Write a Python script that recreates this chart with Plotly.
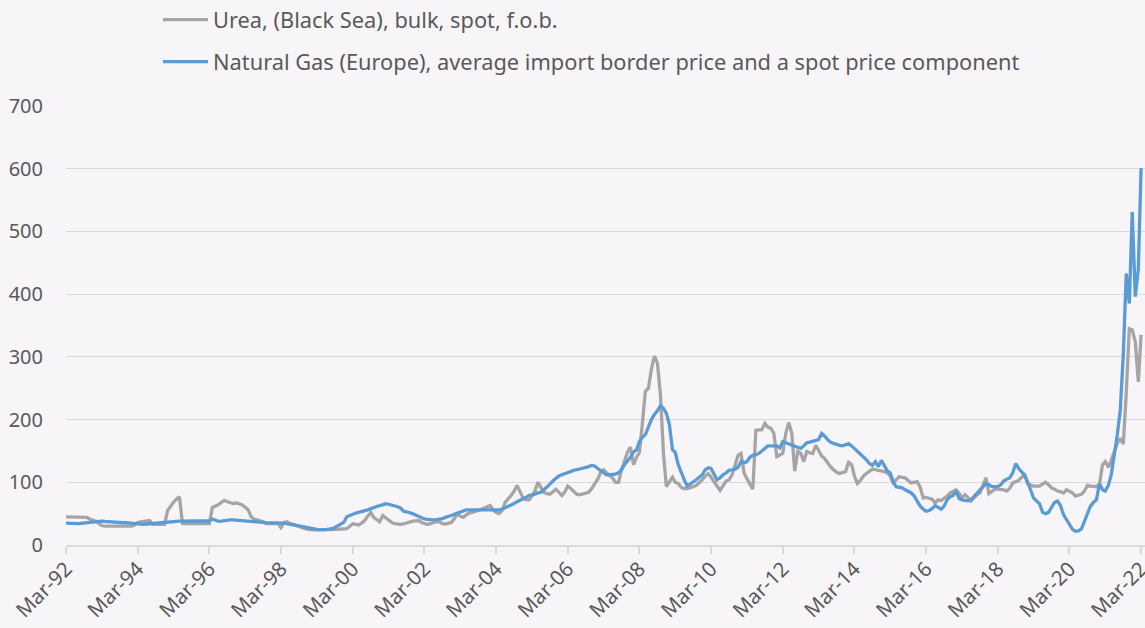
import pandas as pd
import plotly.graph_objects as go

# Monthly observations, Mar-92 .. Mar-22 (one row = Mar..Feb)
urea = [
    45, 45, 45, 45, 45, 45, 45, 44, 41, 39, 38, 34,
    31, 30, 30, 30, 30, 30, 30, 30, 30, 30, 30, 32,
    36, 37, 38, 39, 39, 33, 33, 33, 33, 33, 55, 63,
    68, 73, 77, 34, 34, 34, 34, 34, 34, 34, 34, 34,
    34, 60, 62, 64, 68, 71, 69, 67, 66, 67, 66, 64,
    60, 56, 45, 41, 40, 39, 37, 34, 34, 34, 34, 34,
    28, 36, 37, 34, 33, 31, 29, 27, 26, 25, 24, 24,
    24, 24, 24, 24, 24, 24, 24, 25, 25.5, 25.5, 26, 30,
    34, 33, 32, 35, 39, 46, 52, 44, 41, 37, 47, 43,
    39, 36, 34, 33, 33, 33.5, 35, 37, 38, 38.5, 39, 36,
    34, 32.5, 34, 36, 37, 37, 34, 33.5, 35, 36, 42, 49.5,
    46, 44, 48, 51, 52, 53, 55, 57, 59, 61, 63, 56,
    52, 50, 55, 68, 73, 79, 86, 95, 85, 75, 72, 72,
    78, 86, 100, 92, 84, 82, 81, 85, 89, 84, 79, 85,
    94, 90, 85, 81, 80, 81, 83, 84, 90, 97, 105, 116,
    120, 115, 111, 107, 100, 100, 120, 135, 148, 156, 128, 140,
    147, 195, 245, 250, 280, 301, 290, 240, 147, 93, 100, 108,
    100, 98, 92, 90, 90, 91, 93, 95, 99, 104, 110, 114,
    108, 100, 94, 87, 95, 102, 104, 112, 127, 143, 146, 115,
    106, 97, 89, 183, 184, 184, 194, 188, 186, 178, 141, 143,
    146, 178, 195, 178, 118, 149, 146, 133, 149, 147, 146, 159,
    150, 142, 138, 131, 125, 120, 116, 114, 115, 117, 132, 128,
    110, 98, 103, 110, 114, 118, 121, 120, 119, 119, 117, 115,
    110, 99, 104, 109, 108, 107, 103, 99, 100, 101, 92, 75,
    76, 75, 73, 67, 72, 71, 74, 78, 83, 86, 88, 82,
    75, 80, 76, 70, 75, 80, 83, 95, 107, 82, 86, 89,
    89, 89, 88, 86, 90, 99, 101, 103, 108, 112, 97, 95,
    94, 94, 94, 97, 100, 96, 91, 89, 86, 85, 83, 88,
    86, 83, 78, 79, 81, 86, 95, 94, 93, 93, 97, 128,
    133, 124, 135, 150, 162, 170, 161, 242, 345, 343, 324, 260,
    335,
]

gas = [
    35, 34.5, 34, 33.5, 34, 34.5, 35, 35.5, 36, 36.5, 37, 38,
    38, 37.5, 37, 37, 36.5, 36, 36, 35.5, 35.5, 35, 34.5, 34,
    33.5, 33, 33, 33.5, 34, 34.5, 35, 35.5, 36, 36.5, 37, 37,
    37.5, 37.5, 38, 38, 38.3, 38.3, 38.3, 38.3, 38.3, 38.3, 38.3, 38.5,
    38.5, 41.5, 39, 37.7, 38, 39, 39.5, 40, 40, 39.5, 39, 38.5,
    38, 37.7, 37.5, 37, 36.5, 36, 36, 35.7, 35.7, 35.7, 35.7, 35.7,
    35.7, 35, 34, 33, 32, 31, 30, 29, 28, 27, 26, 25,
    25, 24.5, 24, 24.5, 25.5, 26, 28, 31, 34, 36, 45, 47,
    49.5, 51, 52, 53, 55, 56, 58, 60, 61, 63, 64, 66,
    65, 64, 63, 61, 59, 54, 53, 52, 50, 48, 46, 44,
    41.5, 41, 40, 40, 40.5, 41, 42, 44, 45, 47, 49, 51,
    53, 55, 56, 56, 56, 55.5, 55, 55, 55, 55, 55, 55,
    55.5, 56, 57, 59, 62, 64, 66, 69, 71, 73, 76, 79,
    79.5, 81, 83, 84, 88, 92, 97, 102, 106, 110, 112, 114,
    116, 117, 119, 120, 121, 122, 124, 125, 127, 126, 122, 119,
    116, 112, 112, 112, 113, 115, 120, 128, 134, 140, 148, 152,
    165, 172, 176, 190, 200, 208, 214, 222, 218, 210, 192, 152,
    148, 128, 115, 104, 94, 97, 100, 104, 108, 112, 120, 123,
    122, 113, 104, 107, 112, 115, 119, 120, 121, 124, 133, 131,
    133, 140, 143, 144, 146, 150, 154, 158, 158, 158, 158, 155,
    165, 163, 161, 159, 157, 155, 154, 158, 163, 164, 165, 166,
    168, 178, 174, 168, 164, 162, 160, 159, 158, 160, 161.5, 158,
    154, 150, 145, 140, 136, 130, 127, 133, 125, 135, 126, 118,
    115, 100, 93, 92, 91, 88, 86, 83, 78, 70, 62, 57,
    54, 55, 58, 63, 60, 57, 62, 72, 77, 79, 86, 74,
    72, 71.5, 70.5, 72, 77, 81, 86, 92, 98, 96, 93, 93,
    93, 96, 102, 105, 107, 115, 130, 122, 116, 111, 100, 85,
    75, 70, 66, 52, 50, 52, 59, 68, 70, 63, 48, 40,
    35, 25, 22, 22.5, 25.5, 38, 50, 62, 68, 72, 98, 88,
    86, 95, 112, 142, 175, 215, 305, 433, 385, 531, 396, 440,
    601,
]

months = pd.date_range("1992-03-01", periods=len(urea), freq="MS")

series_names = [
    "Urea, (Black Sea), bulk, spot, f.o.b.",
    "Natural Gas (Europe), average import border price and a spot price component",
]
series_colors = ["#A5A5A5", "#5B9BD5"]

FONT = "Noto Sans"
TXT = "#595959"
GRID = "#D9D9D9"
BG = "#F8F5F9"

fig = go.Figure()
fig.add_trace(go.Scatter(x=months, y=urea, mode="lines", name=series_names[0],
                         line=dict(color=series_colors[0], width=3.3), legend="legend"))
fig.add_trace(go.Scatter(x=months, y=gas, mode="lines", name=series_names[1],
                         line=dict(color=series_colors[1], width=3.3), legend="legend2"))

W, H = 1145, 628
leg_common = dict(xref="container", yref="container", xanchor="left", yanchor="middle",
                  bgcolor="rgba(0,0,0,0)", borderwidth=0, itemwidth=45,
                  font=dict(family=FONT, size=21.8, color=TXT))

fig.update_layout(
    width=W, height=H,
    paper_bgcolor=BG, plot_bgcolor=BG,
    margin=dict(l=66, r=0, t=106, b=83, autoexpand=False),
    font=dict(family=FONT, size=20, color=TXT),
    showlegend=True,
    legend=dict(x=158 / W, y=1 - 20 / H, **leg_common),
    legend2=dict(x=158 / W, y=1 - 62 / H, **leg_common),
    xaxis=dict(
        type="date",
        range=["1992-03-01", "2022-04-10"],
        tick0="1992-03-01", dtick="M24", tickformat="%b-%y",
        tickangle=-45, ticklabeloverflow="allow", ticklabelstandoff=-5,
        showgrid=False, showline=True, linecolor=GRID, linewidth=1.5,
        ticks="outside", ticklen=7, tickcolor=GRID, tickwidth=1.5,
        tickfont=dict(family=FONT, size=20.5, color=TXT),
        zeroline=False, automargin=False,
    ),
    yaxis=dict(
        range=[0, 700], dtick=100,
        showgrid=True, gridcolor=GRID, gridwidth=1.3,
        zeroline=False, showline=False,
        ticks="outside", ticklen=18, tickcolor="rgba(0,0,0,0)",
        tickfont=dict(family=FONT, size=20, color=TXT),
        automargin=False,
    ),
)

fig.write_html(
    "out.html",
    config={"displayModeBar": False},
    post_script="document.body.style.margin='0';document.body.style.background='%s';" % BG,
)
